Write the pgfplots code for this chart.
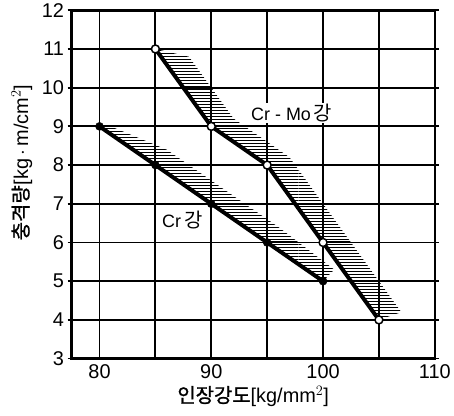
\documentclass[border=0pt]{standalone}
\usepackage{fontspec}
\setmainfont{Liberation Sans}
\newfontfamily\kr[FakeBold=1.2]{Noto Sans CJK KR}
\newfontfamily\krr{Noto Sans CJK KR}
\usepackage{pgfplots}
\pgfplotsset{compat=1.18}
\usetikzlibrary{patterns}
\begin{document}
\begin{tikzpicture}
\begin{axis}[
  scale only axis, width=365pt, height=350pt,
  xmin=77.5, xmax=110, ymin=3, ymax=12,
  xtick={80,90,100,110},
  ytick={3,4,5,6,7,8,9,10,11,12},
  axis line style={line width=2.5pt},
  xtick style={draw=none},
  ytick style={black, line width=1.8pt},
  ytick align=outside, major tick length=4pt,
  /pgf/number format/assume math mode=true,
  tick label style={font=\fontsize{20}{21}\selectfont},
  xticklabel style={yshift=-3pt},
  xlabel={{\kr 인장강도}[kg/mm$^2$]},
  ylabel={{\kr 충격량}[kg\,$\cdot$\,m/cm$^2$]},
  label style={font=\fontsize{20}{22}\selectfont},
  xlabel style={at={(axis description cs:0.5,-0.108)}, anchor=center},
  ylabel style={at={(axis description cs:-0.137,0.563)}, anchor=center},
  clip=false,
]
\path (axis description cs:-0.197,-0.163) (axis description cs:1.0466,1.02);
% grid
\pgfplotsinvokeforeach{80,85,90,95,100,105}{
  \draw[black, line width=1.8pt] (axis cs:#1,3) -- (axis cs:#1,12);}
\pgfplotsinvokeforeach{4,5,6,7,8,9,10,11}{
  \draw[black, line width=1.8pt] (axis cs:77.5,#1) -- (axis cs:110,#1);}
% hatched bands
\addplot[draw=none, pattern=horizontal lines, pattern color=black] coordinates {
 (85,11) (90,9) (95,8) (100,6) (105,4) (107,4.2) (102,6.2) (97,8.2) (92,9.2) (88,10.8) (85,11)};
\addplot[draw=none, pattern=horizontal lines, pattern color=black] coordinates {
 (80,9) (85,8) (90,7) (95,6) (100,5) (101,5.3) (96,6.4) (91,7.4) (86,8.4) (81,9) (80,9)};
% Cr
\addplot[black, line width=4pt, mark=*, mark size=4pt, mark options={solid, fill=black, line width=0.5pt}] coordinates {
 (80,9) (85,8) (90,7) (95,6) (100,5)};
% Cr-Mo
\addplot[black, line width=4pt, mark=*, mark size=4pt, mark options={solid, fill=white, draw=black, line width=1.5pt}] coordinates {
 (85,11) (90,9) (95,8) (100,6) (105,4)};
\node[font=\fontsize{18}{19}\selectfont, fill=white, inner sep=1pt] at (axis cs:97.2,9.35) {Cr - Mo\,{\krr\fontsize{20}{20}\selectfont 강}};
\node[font=\fontsize{18}{19}\selectfont, fill=white, inner sep=1pt] at (axis cs:87.4,6.57) {Cr\,{\krr\fontsize{20}{20}\selectfont 강}};
\end{axis}
\end{tikzpicture}
\end{document}
